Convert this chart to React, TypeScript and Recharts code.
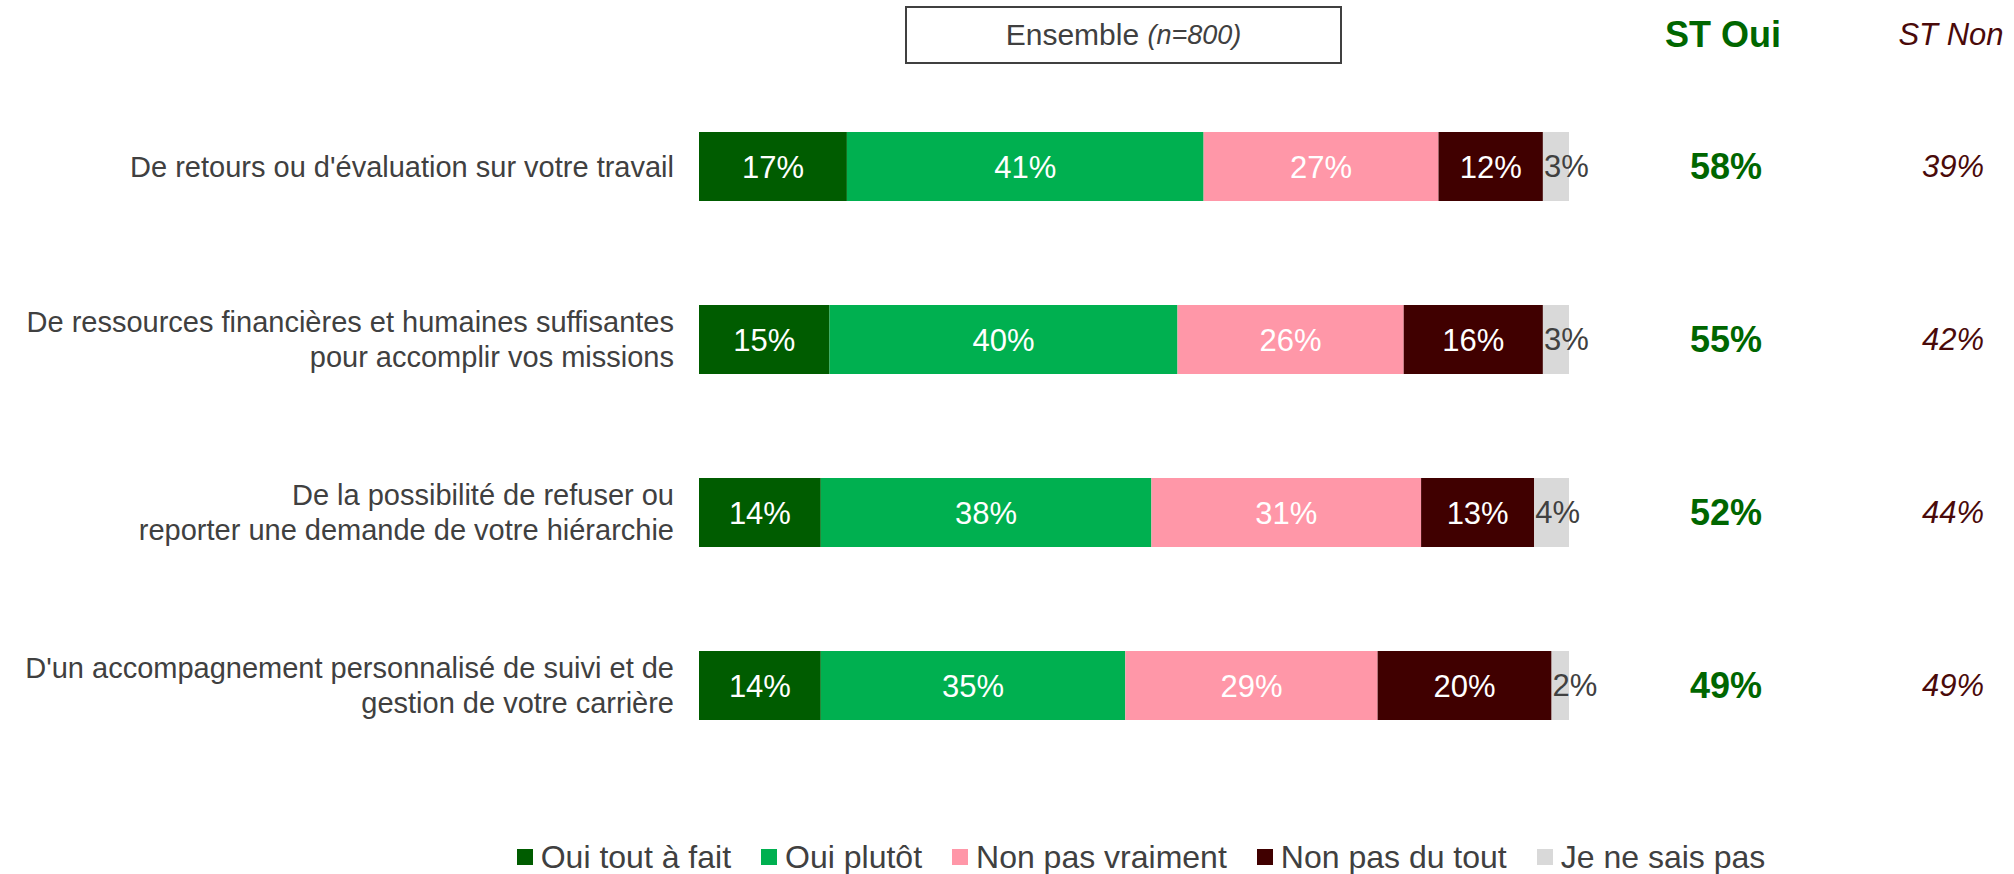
import { BarChart, Bar, XAxis, YAxis, LabelList } from "recharts";

const categories = [
  "De retours ou d'évaluation sur votre travail",
  "De ressources financières et humaines suffisantes\npour accomplir vos missions",
  "De la possibilité de refuser ou\nreporter une demande de votre hiérarchie",
  "D'un accompagnement personnalisé de suivi et de\ngestion de votre carrière",
];

const seriesNames = [
  "Oui tout à fait",
  "Oui plutôt",
  "Non pas vraiment",
  "Non pas du tout",
  "Je ne sais pas",
];
const seriesColors = ["#005C00", "#00B050", "#FF97A8", "#400000", "#D9D9D9"];

const ouiToutAFait = [17, 15, 14, 14];
const ouiPlutot = [41, 40, 38, 35];
const nonPasVraiment = [27, 26, 31, 29];
const nonPasDuTout = [12, 16, 13, 20];
const jeNeSaisPas = [3, 3, 4, 2];

const stOui = [58, 55, 52, 49];
const stNon = [39, 42, 44, 49];

const seriesValues = [ouiToutAFait, ouiPlutot, nonPasVraiment, nonPasDuTout, jeNeSaisPas];
const keys = ["s0", "s1", "s2", "s3", "s4"];

const data = categories.map((name, i) => {
  const row: Record<string, string | number> = { name };
  seriesValues.forEach((vals, k) => {
    row[keys[k]] = vals[i];
  });
  return row;
});

const FONT = "'Liberation Sans', Arial, sans-serif";
const TEXT = "#404040";

const CategoryTick = (props: any) => {
  const { x, y, payload, index } = props;
  const lines = String(payload.value).split("\n");
  const lh = 35;
  return (
    <g>
      <text x={x} y={y} textAnchor="end" fill={TEXT} fontSize={29} fontFamily={FONT}>
        {lines.map((l, i) => (
          <tspan key={i} x={x} y={y + (i - (lines.length - 1) / 2) * lh} dy="0.35em">
            {l}
          </tspan>
        ))}
      </text>
      <text
        x={x + 1052}
        y={y}
        dy="0.35em"
        textAnchor="middle"
        fill="#006600"
        fontSize={36}
        fontWeight="bold"
        fontFamily={FONT}
      >
        {stOui[index]}%
      </text>
      <text
        x={x + 1279}
        y={y}
        dy="0.35em"
        textAnchor="middle"
        fill="#4A0A0A"
        fontSize={31}
        fontStyle="italic"
        fontFamily={FONT}
      >
        {stNon[index]}%
      </text>
    </g>
  );
};

const OutsideLabel = (props: any) => {
  const { x, y, height, value } = props;
  return (
    <text
      x={x + 1}
      y={y + height / 2}
      dy="0.35em"
      textAnchor="start"
      fill={TEXT}
      fontSize={31}
      fontFamily={FONT}
    >
      {value}%
    </text>
  );
};

export default function App() {
  return (
    <div
      style={{
        position: "absolute",
        left: 0,
        top: 0,
        width: 2014,
        height: 874,
        background: "#fff",
        fontFamily: FONT,
      }}
    >
      <div
        style={{
          position: "absolute",
          left: 905,
          top: 6,
          width: 437,
          height: 58,
          boxSizing: "border-box",
          border: "2px solid #404040",
          display: "flex",
          alignItems: "center",
          justifyContent: "center",
          color: TEXT,
          fontSize: 30,
        }}
      >
        Ensemble&nbsp;<i style={{ fontSize: 27 }}>(n=800)</i>
      </div>
      <div
        style={{
          position: "absolute",
          left: 1623,
          top: 14,
          width: 200,
          textAlign: "center",
          color: "#006600",
          fontWeight: "bold",
          fontSize: 36,
          lineHeight: "42px",
        }}
      >
        ST Oui
      </div>
      <div
        style={{
          position: "absolute",
          left: 1851,
          top: 15,
          width: 200,
          textAlign: "center",
          color: "#4A0A0A",
          fontStyle: "italic",
          fontSize: 31,
          lineHeight: "40px",
        }}
      >
        ST Non
      </div>

      <div style={{ position: "absolute", left: 0, top: 0 }}>
        <BarChart
          layout="vertical"
          width={2014}
          height={874}
          data={data}
          margin={{ top: 80, right: 445, bottom: 102, left: 0 }}
          barSize={69}
        >
          <XAxis type="number" domain={[0, 100]} hide />
          <YAxis
            type="category"
            dataKey="name"
            width={699}
            axisLine={false}
            tickLine={false}
            tickSize={0}
            tickMargin={25}
            interval={0}
            tick={<CategoryTick />}
          />
          {keys.map((k, i) => (
            <Bar
              key={k}
              dataKey={k}
              name={seriesNames[i]}
              stackId="a"
              fill={seriesColors[i]}
              isAnimationActive={false}
            >
              {i < 4 ? (
                <LabelList
                  dataKey={k}
                  position="center"
                  fill="#fff"
                  fontSize={31}
                  fontFamily={FONT}
                  formatter={(v: any) => `${v}%`}
                />
              ) : (
                <LabelList dataKey={k} content={<OutsideLabel />} />
              )}
            </Bar>
          ))}
        </BarChart>
      </div>

      <div
        style={{
          position: "absolute",
          left: 706,
          top: 837,
          width: 870,
          display: "flex",
          justifyContent: "center",
          alignItems: "center",
          gap: 30,
          color: TEXT,
          fontSize: 32,
          lineHeight: "40px",
          whiteSpace: "nowrap",
        }}
      >
        {seriesNames.map((n, i) => (
          <div key={n} style={{ display: "flex", alignItems: "center", gap: 8, flexShrink: 0 }}>
            <span
              style={{
                display: "inline-block",
                width: 16,
                height: 16,
                background: seriesColors[i],
              }}
            />
            <span>{n}</span>
          </div>
        ))}
      </div>
    </div>
  );
}
